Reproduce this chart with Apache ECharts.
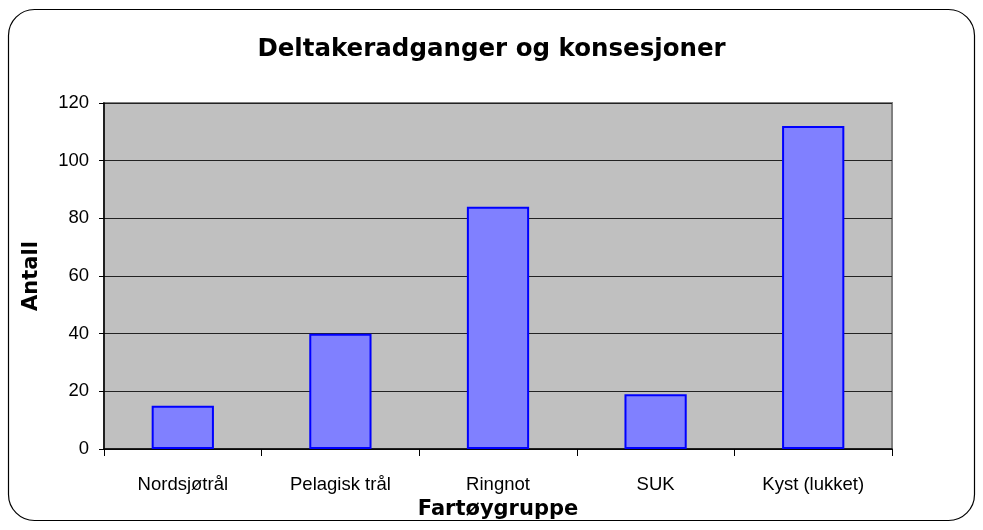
<!DOCTYPE html>
<html lang="no">
<head>
<meta charset="utf-8">
<title>Deltakeradganger og konsesjoner</title>
<style type="text/css">
  *{padding:0;margin:0;}
  html,body,#chart{width:983px;height:530px;background:#fff;}
</style>
</head>
<body>
<div id="chart"></div>
<script src="https://cdn.jsdelivr.net/npm/echarts@6/dist/echarts.min.js"></script>
<script type="text/javascript">
var categories = ['Nordsjøtrål', 'Pelagisk trål', 'Ringnot', 'SUK', 'Kyst (lukket)'];
var values = [15, 40, 84, 19, 112];
var yTicks = [0, 20, 40, 60, 80, 100, 120];

var chart = echarts.init(document.getElementById('chart'));
var font = 'Liberation Sans, Arial, sans-serif';
var boldFont = 'DejaVu Sans, Liberation Sans, sans-serif';

var option = {
  backgroundColor: '#fff',
  animation: false,
  graphic: [{
    type: 'rect',
    shape: {x: 8.5, y: 9.5, width: 966, height: 511, r: 26},
    style: {fill: 'none', stroke: '#000', lineWidth: 1.2},
    z: 0
  }],
  title: {
    text: 'Deltakeradganger og konsesjoner',
    left: 'center',
    top: 32,
    textStyle: {fontFamily: boldFont, fontSize: 24.5, fontWeight: 'bold', color: '#000'}
  },
  grid: {
    left: 104, right: 91, top: 103, bottom: 81,
    show: true,
    backgroundColor: '#C0C0C0',
    borderColor: '#808080',
    borderWidth: 2
  },
  xAxis: {
    type: 'category',
    data: categories,
    name: 'Fartøygruppe',
    nameLocation: 'middle',
    nameGap: 49,
    nameTextStyle: {fontFamily: boldFont, fontSize: 21, fontWeight: 'bold', color: '#000'},
    axisLine: {lineStyle: {color: '#000', width: 1.5}},
    axisTick: {show: true, length: 7, lineStyle: {color: '#000'}},
    axisLabel: {fontFamily: font, fontSize: 18.5, color: '#000', margin: 26}
  },
  yAxis: {
    type: 'value',
    min: yTicks[0],
    max: yTicks[yTicks.length - 1],
    interval: 20,
    name: 'Antall',
    nameLocation: 'middle',
    nameGap: 62,
    nameRotate: 90,
    nameTextStyle: {fontFamily: boldFont, fontSize: 21, fontWeight: 'bold', color: '#000'},
    axisLine: {show: true, lineStyle: {color: '#000', width: 1.5}},
    axisTick: {show: true, length: 5, lineStyle: {color: '#000'}},
    axisLabel: {fontFamily: font, fontSize: 18.5, color: '#000', margin: 15},
    splitLine: {show: true, lineStyle: {color: '#222', width: 1}}
  },
  series: [{
    type: 'bar',
    data: values,
    barWidth: '39.5%',
    itemStyle: {color: '#8080FF', borderColor: '#0000FF', borderWidth: 2}
  }]
};
chart.setOption(option);
</script>
</body>
</html>
